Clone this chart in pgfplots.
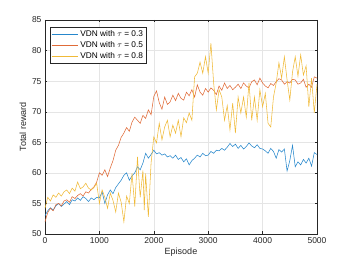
\documentclass[border=0pt]{standalone}
\usepackage{pgfplots}
\pgfplotsset{compat=1.18}
\usepackage{fontspec}
\setmainfont{Liberation Sans}
\definecolor{mblue}{rgb}{0.15,0.53,0.8}
\definecolor{morange}{rgb}{0.88,0.42,0.22}
\definecolor{myellow}{rgb}{0.94,0.73,0.22}
\definecolor{axgray}{rgb}{0.15,0.15,0.15}
\pgfplotstableread{
ep v
0 53.0
50 53.8
100 54.3
150 53.9
200 54.6
250 55.0
300 54.5
350 54.9
400 55.3
450 54.8
500 55.6
550 55.4
600 55.9
650 55.5
700 56.1
750 55.8
800 55.3
850 55.9
900 55.6
950 56.0
1000 55.9
1050 56.9
1100 55.0
1150 56.4
1200 57.2
1250 56.6
1300 57.6
1350 58.2
1400 58.8
1450 59.6
1500 60.0
1550 58.8
1600 59.5
1650 60.0
1700 61.0
1750 60.5
1800 61.6
1850 63.2
1900 62.4
1950 63.0
2000 63.7
2050 63.1
2100 63.3
2150 62.9
2200 63.1
2250 62.6
2300 62.8
2350 62.4
2400 62.9
2450 62.2
2500 62.5
2550 61.8
2600 62.3
2650 61.3
2700 62.0
2750 62.4
2800 62.9
2850 62.6
2900 63.2
2950 62.8
3000 62.9
3050 63.5
3100 63.2
3150 63.7
3200 63.6
3250 64.0
3300 63.7
3350 64.2
3400 64.8
3450 64.3
3500 64.7
3550 64.0
3600 64.5
3650 63.9
3700 64.3
3750 64.9
3800 64.4
3850 64.1
3900 64.6
3950 64.0
4000 63.9
4050 63.6
4100 63.2
4150 64.0
4200 63.5
4250 62.4
4300 63.8
4350 63.4
4400 63.9
4450 60.3
4500 62.0
4550 64.5
4600 61.0
4650 61.8
4700 61.3
4750 62.2
4800 61.6
4850 62.4
4900 61.1
4950 63.3
5000 63.0
}\blue
\pgfplotstableread{
ep v
0 52.0
50 53.5
100 54.2
150 53.8
200 54.8
250 55.0
300 54.6
350 55.4
400 55.6
450 55.2
500 56.1
550 55.8
600 56.3
650 56.6
700 56.2
750 56.9
800 56.7
850 57.3
900 57.7
950 58.5
1000 60.0
1050 59.6
1100 60.5
1150 59.4
1200 60.8
1250 62.0
1300 63.7
1350 64.5
1400 65.8
1450 66.5
1500 67.4
1550 66.8
1600 68.3
1650 69.1
1700 68.6
1750 68.1
1800 69.4
1850 68.9
1900 70.3
1950 69.5
2000 72.5
2050 73.4
2100 71.5
2150 70.4
2200 72.4
2250 71.2
2300 71.6
2350 72.7
2400 71.8
2450 73.0
2500 72.2
2550 71.9
2600 73.2
2650 72.6
2700 73.6
2750 72.4
2800 74.4
2850 73.2
2900 72.7
2950 73.8
3000 73.2
3050 73.9
3100 73.5
3150 72.8
3200 74.2
3250 73.5
3300 74.7
3350 73.8
3400 74.3
3450 73.6
3500 74.0
3550 74.5
3600 73.8
3650 74.7
3700 74.2
3750 73.9
3800 74.9
3850 75.2
3900 74.4
3950 75.5
4000 74.7
4050 74.2
4100 73.9
4150 74.6
4200 74.3
4250 74.9
4300 75.4
4350 75.2
4400 74.5
4450 74.9
4500 74.7
4550 75.3
4600 75.2
4650 74.5
4700 74.7
4750 75.3
4800 74.0
4850 74.5
4900 74.0
4950 75.7
5000 75.5
}\red
\pgfplotstableread{
ep v
0 54.2
50 56.0
100 55.4
150 56.4
200 56.0
250 56.7
300 56.2
350 56.9
400 57.2
450 56.6
500 57.5
550 57.0
600 58.5
650 57.4
700 57.7
750 58.3
800 57.5
850 57.2
900 57.6
950 58.3
1000 55.0
1050 57.2
1100 56.0
1150 54.2
1200 56.7
1250 55.5
1300 53.6
1350 56.7
1400 55.2
1450 52.0
1500 56.2
1550 55.0
1600 59.9
1650 54.5
1700 62.6
1750 56.0
1800 60.4
1825 53.9
1850 59.9
1900 52.8
1950 61.6
2000 65.9
2050 64.9
2100 68.1
2150 65.4
2200 67.5
2250 68.6
2300 65.9
2350 67.8
2400 66.5
2450 68.6
2500 65.9
2550 69.0
2600 68.2
2650 69.8
2700 68.6
2750 75.7
2800 76.3
2850 78.1
2900 76.3
2950 79.0
3000 76.3
3050 81.2
3100 74.7
3150 70.3
3200 73.6
3250 72.4
3300 68.6
3350 71.0
3400 67.0
3450 71.4
3500 66.5
3550 72.4
3600 69.8
3650 72.4
3700 69.1
3750 74.7
3800 68.6
3850 72.4
3900 68.6
3950 73.6
4000 70.8
4050 73.0
4100 68.1
4150 67.5
4200 72.4
4250 74.7
4300 78.0
4350 75.5
4400 79.0
4450 75.2
4500 71.9
4550 76.5
4600 79.0
4650 75.8
4700 79.3
4750 76.0
4800 77.5
4850 70.8
4900 75.5
4950 69.8
5000 74.5
}\yellow
\begin{document}
\begin{tikzpicture}
\begin{axis}[
  scale only axis,
  width=272pt, height=214pt,
  xmin=0, xmax=5000, ymin=50, ymax=85,
  xtick={0,1000,...,5000}, ytick={50,55,...,85},
  scaled x ticks=false,
  /pgf/number format/assume math mode=true,
  /pgf/number format/1000 sep={},
  tick label style={font=\fontsize{8.5}{10}\selectfont, text=axgray},
  label style={font=\fontsize{9}{11}\selectfont, text=axgray},
  xlabel={Episode}, ylabel={Total reward},
  xlabel style={yshift=2pt},
  ylabel style={yshift=-1pt},
  axis line style={axgray, line width=0.5pt},
  tick style={axgray, line width=0.4pt},
  tick align=inside,
  major tick length=2.5pt,
  grid=major,
  major grid style={gray!20, line width=0.4pt},
  legend style={at={(rel axis cs:0.018,0.967)}, anchor=north west,
    font=\fontsize{8.3}{9.5}\selectfont, draw=axgray, line width=0.4pt,
    inner xsep=1.5pt, inner ysep=1pt, row sep=-0.5pt},
  legend cell align=left,
  legend image post style={line width=0.6pt},
  legend image code/.code={\draw[#1] (0cm,0cm) -- (0.92cm,0cm);},
]
\addplot[mblue, line width=0.55pt] table[x=ep,y=v]{\blue};
\addlegendentry{VDN with $\tau$ = 0.3}
\addplot[morange, line width=0.55pt] table[x=ep,y=v]{\red};
\addlegendentry{VDN with $\tau$ = 0.5}
\addplot[myellow, line width=0.55pt] table[x=ep,y=v]{\yellow};
\addlegendentry{VDN with $\tau$ = 0.8}
\coordinate (sw) at (rel axis cs:0,0);
\coordinate (ne) at (rel axis cs:1,1);
\end{axis}
\path ([shift={(-45pt,-29pt)}]sw) rectangle ([shift={(33pt,20pt)}]ne);
\end{tikzpicture}
\end{document}
